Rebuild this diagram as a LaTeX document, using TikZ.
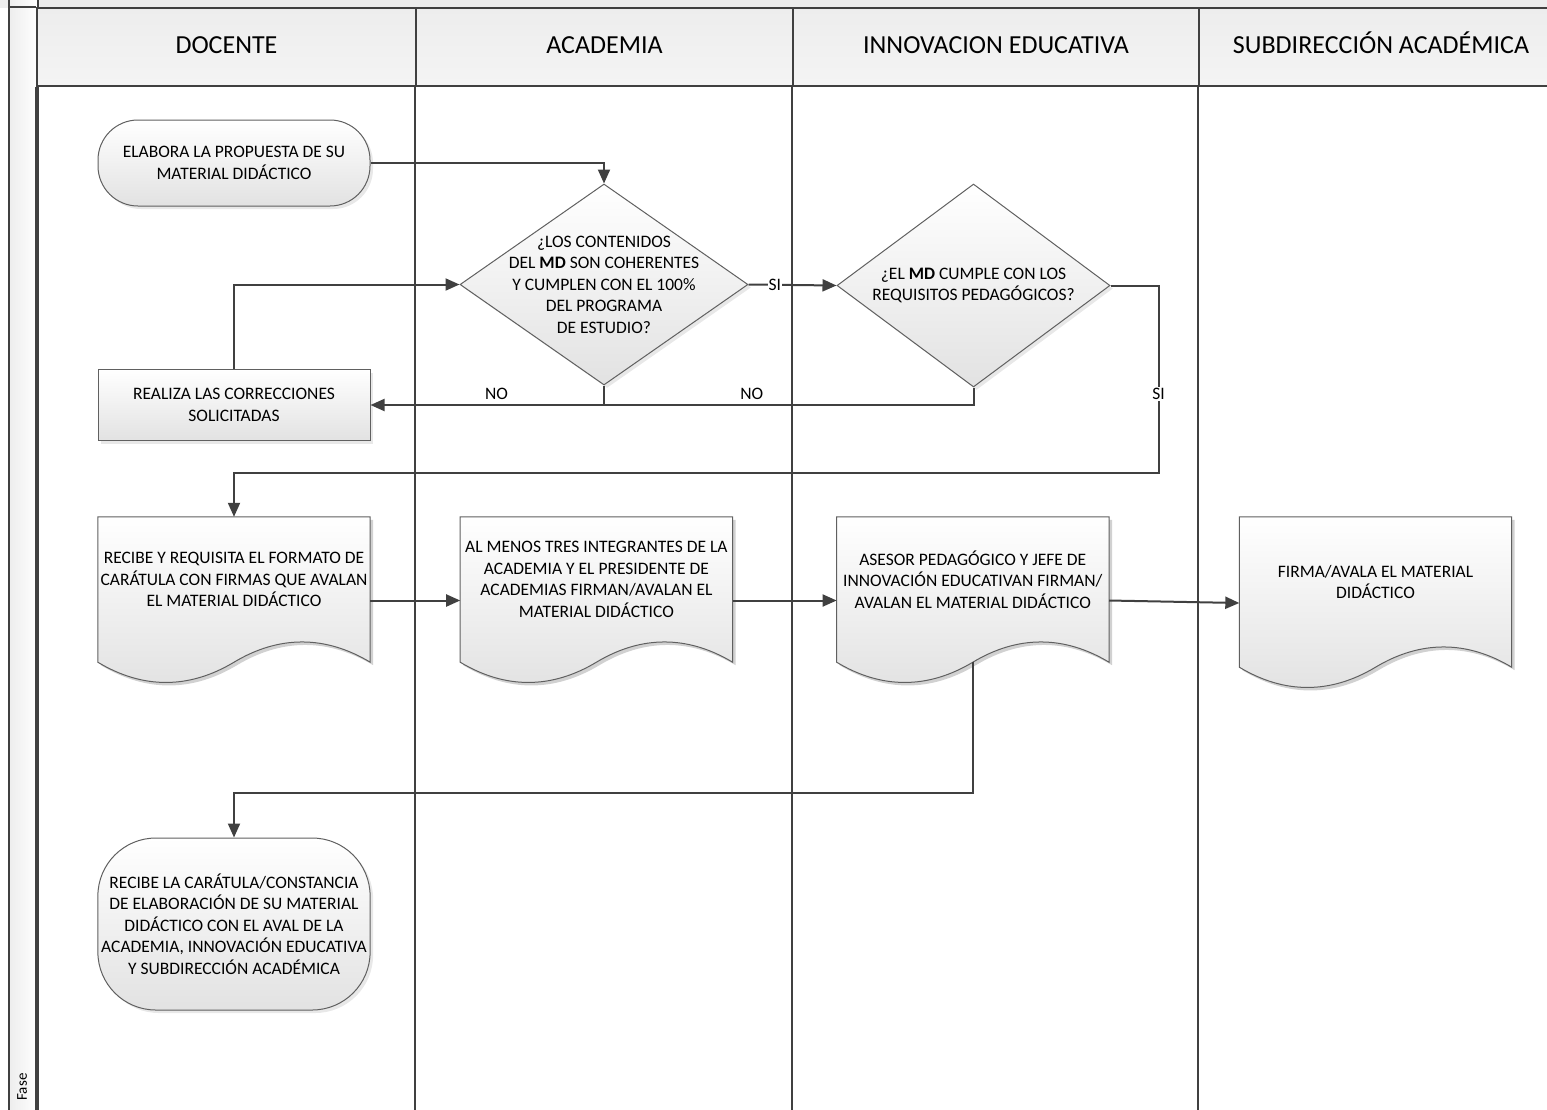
\documentclass[tikz,border=0pt]{standalone}
\usepackage{fontspec}
\setmainfont{Carlito}
\usetikzlibrary{arrows.meta,
                positioning,
                calc,
                backgrounds,
                shadows,
                shapes.geometric}
\definecolor{linegray}{HTML}{404040}
\definecolor{edgegray}{HTML}{606060}
\definecolor{shadegray}{HTML}{E2E2E2}
\definecolor{headgray}{HTML}{EDEDED}
\newcommand\bodyfont{\fontsize{17.5}{21.5}\selectfont}
% document outline below a text node: straight top, wavy bottom
\newcommand\docpath[1]{(#1.north west) -- (#1.north east) -- ([yshift=-20pt]#1.south east)
    .. controls +(-45pt,27pt) and +(45pt,27pt) .. ([yshift=-20pt]#1.south)
    .. controls +(-45pt,-27pt) and +(45pt,-27pt) .. ([yshift=-20pt]#1.south west) -- cycle}
\newcommand\docpaper[1]{%
  \begin{scope}[on background layer]
    \fill[black!18, transform canvas={xshift=3pt, yshift=-3pt}] \docpath{#1};
    \path[draw=edgegray, line width=1pt, top color=white, bottom color=shadegray] \docpath{#1};
  \end{scope}}
\tikzset{
       arr/.style = {-{Triangle[length=14pt,width=12pt]}, line width=2pt, draw=linegray},
      conn/.style = {line width=2pt, draw=linegray},
      lane/.style = {line width=1.8pt, draw=linegray},
      base/.style = {draw=edgegray, line width=1pt, % <--- shapes of the flow
                     top color=white, bottom color=shadegray,
                     font=\bodyfont, align=center,
                     drop shadow={shadow xshift=3pt, shadow yshift=-3pt, fill=black!18}},
 startstop/.style = {base, rectangle, minimum width=272pt, minimum height=86pt, rounded corners=40pt},
   process/.style = {base, rectangle, minimum width=272pt, minimum height=71pt},
  decision/.style = {base, diamond, aspect=1.4, inner sep=-20pt},
  document/.style = {font=\bodyfont, align=center, inner sep=0pt,
                     minimum width=272pt, minimum height=125pt},
    header/.style = {draw=linegray, line width=1.8pt, top color=headgray, bottom color=headgray!60!white,
                     font=\fontsize{26}{30}\selectfont, minimum height=78pt, inner sep=0pt,
                     text height=18pt, text depth=5pt},
       lbl/.style = {font=\bodyfont, inner sep=1pt},
        }

\begin{document}
\begin{tikzpicture}[x=1pt, y=-1pt]
  \useasboundingbox (0,0) rectangle (1547,1109);
  \fill[headgray] (0,0) rectangle (1547,8);

  % lanes
  \node[draw=linegray, line width=1.8pt, left color=gray!14, right color=white,
        minimum width=29pt, minimum height=1150pt, inner sep=0pt, anchor=north west] (fase) at (8,-20) {};
  \node[rotate=90, font=\fontsize{15}{17}\selectfont] (fasetxt) at (22,1087) {Fase};
  \node[header, minimum width=379pt] (hdoc)  at (226.5,47) {DOCENTE};
  \node[header, minimum width=377pt] (hacad) at (604.5,47) {ACADEMIA};
  \node[header, minimum width=406pt] (hinno) at (996,47)   {INNOVACION EDUCATIVA};
  \node[header, minimum width=364pt] (hsub)  at (1381,47)  {SUBDIRECCIÓN ACADÉMICA};
  \draw[lane] (fase.west |- hdoc.north) -- (hdoc.north west);
  \foreach \h in {hdoc, hacad, hinno, hsub}
    \draw[lane] (\h.south west) -- ++(0,1030);

  % flow
  \node[startstop] (start) at (234,163) {ELABORA LA PROPUESTA DE SU\\MATERIAL DIDÁCTICO};
  \node[decision, minimum width=288pt, minimum height=201pt] (q1) at (604,284.5)
       {¿LOS CONTENIDOS\\DEL \textbf{MD} SON COHERENTES\\Y CUMPLEN CON EL 100\%\\DEL PROGRAMA\\DE ESTUDIO?};
  \node[decision, minimum width=273pt, minimum height=203pt] (q2) at (973.5,285.5)
       {¿EL \textbf{MD} CUMPLE CON LOS\\REQUISITOS PEDAGÓGICOS?};
  \node[process] (fix) at (234,405) {REALIZA LAS CORRECCIONES\\SOLICITADAS};

  \node[document] (d1) at (234,579.5)
       {RECIBE Y REQUISITA EL FORMATO DE\\CARÁTULA CON FIRMAS QUE AVALAN\\EL MATERIAL DIDÁCTICO};
  \node[document, right=90pt of d1] (d2)
       {AL MENOS TRES INTEGRANTES DE LA\\ACADEMIA Y EL PRESIDENTE DE\\ACADEMIAS FIRMAN/AVALAN EL\\MATERIAL DIDÁCTICO};
  \node[document, right=104pt of d2] (d3)
       {ASESOR PEDAGÓGICO Y JEFE DE\\INNOVACIÓN EDUCATIVAN FIRMAN/\\AVALAN EL MATERIAL DIDÁCTICO};
  \node[document, minimum height=130pt] (d4) at (1375.5,582) {FIRMA/AVALA EL MATERIAL\\DIDÁCTICO};
  \foreach \d in {d1, d2, d3, d4}
    \docpaper{\d};

  \node[startstop, minimum height=172pt, rounded corners=58pt] (fin) at (234,924)
       {RECIBE LA CARÁTULA/CONSTANCIA\\DE ELABORACIÓN DE SU MATERIAL\\DIDÁCTICO CON EL AVAL DE LA\\ACADEMIA, INNOVACIÓN EDUCATIVA\\Y SUBDIRECCIÓN ACADÉMICA};

  \coordinate (j1) at ($(q2.east)+(48,187)$);
  \coordinate (j2) at ($(d3.south)+(0,151)$);

  % connectors
  \draw[arr] (start.east) -| (q1.north);
  \draw[arr] (fix.north) |- (q1.west);
  \draw[arr] (q1.east) -- node[lbl, fill=white, pos=0.3] (si1) {SI} (q2.west);
  \draw[arr] (q1.south) |- node[lbl, above=3pt, pos=0.73] (no1) {NO} (fix.east);
  \draw[conn] (q2.south) |- node[lbl, above=3pt, pos=0.8] (no2) {NO} (q1.south |- fix.east);
  \draw[arr] (q2.east) -| node[lbl, fill=white, pos=0.79] (si2) {SI} (j1) -| (d1.north);
  \draw[arr] ([yshift=-21pt]d1.east) -- ([yshift=-21pt]d2.west);
  \draw[arr] ([yshift=-21pt]d2.east) -- ([yshift=-21pt]d3.west);
  \draw[arr] ([yshift=-21pt]d3.east) -- ([yshift=-21pt]d4.west);
  \draw[arr] ([yshift=-20pt]d3.south) -- (j2) -| (fin.north);
\end{tikzpicture}
\end{document}
